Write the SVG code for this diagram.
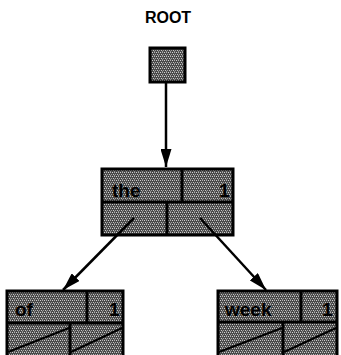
<svg xmlns="http://www.w3.org/2000/svg" width="341" height="355" viewBox="0 0 341 355">
<defs>
<pattern id="ht" width="4" height="4" patternUnits="userSpaceOnUse">
<rect width="4" height="4" fill="#4a4a4a"/>
<rect x="0" y="0" width="1" height="1" fill="#d0d0d0"/>
<rect x="2" y="0" width="1" height="1" fill="#b0b0b0"/>
<rect x="1" y="2" width="1" height="1" fill="#c4c4c4"/>
<rect x="3" y="2" width="1" height="1" fill="#a0a0a0"/>
<rect x="2" y="3" width="1" height="1" fill="#8c8c8c"/>
</pattern>
<marker id="ah" viewBox="0 0 18 11" refX="18" refY="5.5" markerWidth="18" markerHeight="11" markerUnits="userSpaceOnUse" orient="auto">
<path d="M0,0 L18,5.5 L0,11 Z" fill="#000"/>
</marker>
</defs>
<style>
.box{fill:url(#ht);stroke:#000;stroke-width:3}
.div{stroke:#000;stroke-width:3;fill:none}
.nil{stroke:#000;stroke-width:2;fill:none}
.t{font-family:"Liberation Sans",Arial,sans-serif;font-weight:bold;fill:#000}
.lbl{font-size:19px}
.edge{stroke:#000;stroke-width:2.5;fill:none;marker-end:url(#ah)}
</style>
<text class="t" x="168" y="23" font-size="16" text-anchor="middle">ROOT</text>
<g id="root">
<rect class="box" x="150" y="48" width="35" height="34"/>
</g>
<g id="node-the">
<rect class="box" x="102" y="169" width="131" height="66"/>
<line class="div" x1="102" y1="202" x2="233" y2="202"/>
<line class="div" x1="182" y1="169" x2="182" y2="202"/>
<line class="div" x1="167" y1="202" x2="167" y2="235"/>
<text class="t lbl" x="112" y="197">the</text>
<text class="t lbl" x="219" y="197">1</text>
</g>
<g id="node-of">
<rect class="box" x="7" y="291" width="116" height="70"/>
<line class="div" x1="7" y1="323" x2="123" y2="323"/>
<line class="div" x1="87" y1="291" x2="87" y2="323"/>
<line class="div" x1="70" y1="323" x2="70" y2="361"/>
<line class="nil" x1="8" y1="352" x2="69" y2="328"/>
<line class="nil" x1="71" y1="352" x2="122" y2="328"/>
<text class="t lbl" x="15" y="316">of</text>
<text class="t lbl" x="109" y="316">1</text>
</g>
<g id="node-week">
<rect class="box" x="218" y="291" width="119" height="70"/>
<line class="div" x1="218" y1="322" x2="337" y2="322"/>
<line class="div" x1="301" y1="291" x2="301" y2="322"/>
<line class="div" x1="283" y1="322" x2="283" y2="361"/>
<line class="nil" x1="219" y1="352" x2="282" y2="328"/>
<line class="nil" x1="284" y1="352" x2="336" y2="328"/>
<text class="t lbl" x="225" y="316">week</text>
<text class="t lbl" x="322" y="316">1</text>
</g>
<g id="connectors">
<line class="edge" x1="166" y1="82" x2="166" y2="167"/>
<line class="edge" x1="134" y1="218" x2="63" y2="290"/>
<line class="edge" x1="200" y1="218" x2="266" y2="290"/>
</g>
</svg>
